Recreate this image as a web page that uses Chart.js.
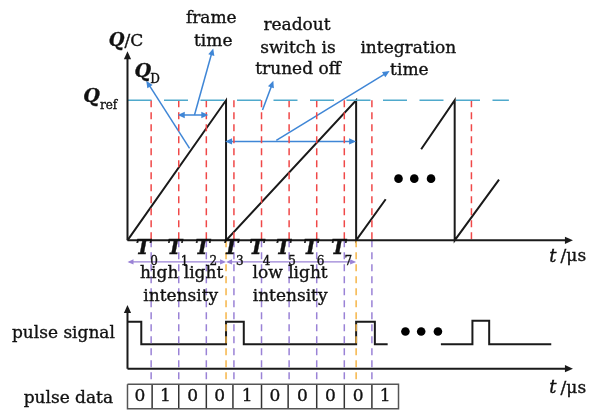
<!DOCTYPE html>
<html>
<head>
<meta charset="utf-8">
<script src="https://cdn.jsdelivr.net/npm/chart.js@4.4.1/dist/chart.umd.min.js"></script>
<style>
html,body{margin:0;padding:0;background:#fff;}
#wrap{width:594px;height:419px;position:relative;}
</style>
</head>
<body>
<div id="wrap"><canvas id="c"></canvas></div>
<script>
// ---- diagram values (in the page's time / charge units) ----
const readoutTimes = [149,177,205,233,261,289,317,345,373,474];      // red dashed readout instants
const sampleTimes  = [149,177,205,233,261,289,317,345,373];          // purple dashed sampling lines
const resetTimes   = [225,357];                                      // orange reset lines
const frameBounds  = [125,150,177,205,232,261,288,317,345,373,400];  // pulse data cells
const pulseBits    = ['0','1','0','0','1','0','0','0','0','1'];
const frameLabels  = ['0','1','2','3','4','5','6','7'];
const frameLabelX  = [141,173,201,230,256,283,311,339];
const frameSubX    = [152,183,212,239,266,292,321,349];
const qRef = 98, qZero = 241;
const ramp1 = [[125,241],[225,98],[225,241],[357,98],[357,241],[387,199]];
const ramp2 = [[423,148],[457,98],[457,241],[502,179]];
const pulse1 = [[125,324],[139,324],[139,347],[225,347],[225,324],[243,324],[243,347],[357,347],[357,324],[376,324],[376,347],[389,347]];
const pulse2 = [[443,347],[475,347],[475,323],[492,323],[492,347],[555,347]];
const dotsTop = [[400,178],[416,178],[433,178]];
const dotsBottom = [[407,334],[423,334],[440,334]];

const BLACK='#1a1a1a', RED='#f04848', PURPLE='#9a82d6', ORANGE='#f5b548', BLUE='#3f86d6', TEAL='#4fa9cc';

function pts(a){return a.map(p=>({x:p[0],y:p[1]}));}
const ds=[];
function line(points,color,width,dash){
  ds.push({data:pts(points),showLine:true,borderColor:color,borderWidth:width,borderDash:dash||[],pointRadius:0,fill:false,tension:0});
}
// axes
line([[125,qZero],[125,52]],BLACK,2);
line([[125,qZero],[572,qZero]],BLACK,2);
line([[125,372],[125,310]],BLACK,2);
line([[125,372],[572,372]],BLACK,2);
// Qref
line([[125,qRef],[512,qRef]],TEAL,1.6,[24,12.5]);
// red readout lines
readoutTimes.forEach(t=>line([[t,qRef],[t,qZero]],RED,1.5,[7,5]));
// purple sampling lines
sampleTimes.forEach(t=>line([[t,qZero],[t,388]],PURPLE,1.5,[7,5]));
// orange reset lines
resetTimes.forEach(t=>line([[t,qZero],[t,383]],ORANGE,1.5,[7,5]));
// sawtooth
line(ramp1,BLACK,2);
line(ramp2,BLACK,2);
// pulse signal
line(pulse1,BLACK,2);
line(pulse2,BLACK,2);
// purple frame arrows
line([[127,263],[223,263]],PURPLE,1.3);
line([[227,263],[355,263]],PURPLE,1.3);
// blue annotations
line([[188,147],[146,81]],BLUE,1.5);
line([[179,113],[204,113]],BLUE,1.5);
line([[193,113],[211,48]],BLUE,1.5);
line([[262,108],[272,81]],BLUE,1.5);
line([[227,140],[354,140]],BLUE,1.5);
line([[276,139],[388,70]],BLUE,1.5);
// pulse data cells
line([[frameBounds[0],388],[frameBounds[frameBounds.length-1],388],[frameBounds[frameBounds.length-1],413],[frameBounds[0],413],[frameBounds[0],388]],'#555',1.5);
frameBounds.slice(1,-1).forEach(b=>line([[b,388],[b,413]],'#333',1.5));
// ellipsis dots
ds.push({data:pts(dotsTop.concat(dotsBottom)),showLine:false,pointRadius:4.3,pointBackgroundColor:'#000',pointBorderWidth:0});

const arrows=[ // [fromX,fromY,tipX,tipY,color,size]
 [125,70,125,48,BLACK,8],[550,qZero,577,qZero,BLACK,8],
 [125,330,125,307,BLACK,8],[550,372,577,372,BLACK,8],
 [188,147,144,78,BLUE,7],[190,113,176,113,BLUE,7],[190,113,207,113,BLUE,7],
 [193,113,212,45,BLUE,7],[262,108,273,78,BLUE,7],
 [290,140,224,140,BLUE,7],[290,140,357,140,BLUE,7],[276,139,391,68,BLUE,7],
 [175,263,125,263,PURPLE,6],[175,263,225,263,PURPLE,6],[290,263,225,263,PURPLE,6],[290,263,357,263,PURPLE,6]
];

const SERIF='"DejaVu Serif", "Liberation Serif", serif';
const texts=[ // [text,x,y,align,font]
 ['frame',210,15,'center','17px '+SERIF],['time',212,38,'center','17px '+SERIF],
 ['readout',297,22,'center','17px '+SERIF],['switch is',298,45,'center','17px '+SERIF],['truned off',298,67,'center','17px '+SERIF],
 ['integration',410,45,'center','17px '+SERIF],['time',411,68,'center','17px '+SERIF],
 ['high light',180,275,'center','17px '+SERIF],['intensity',179,298,'center','17px '+SERIF],
 ['low light',290,275,'center','17px '+SERIF],['intensity',290,298,'center','17px '+SERIF],
 ['pulse signal',60,336,'center','17px '+SERIF],['pulse data',65,403,'center','17px '+SERIF],
 ['Q',106,38,'left','italic bold 18px '+SERIF],['/C',122,38,'left','17px '+SERIF],
 ['Q',80,95,'left','italic bold 19px '+SERIF],['ref',97,104,'left','12px '+SERIF],
 ['Q',132,69,'left','italic bold 19px '+SERIF],['D',148,77,'left','12px '+SERIF],
 ['t',553,258,'left','italic 18px '+SERIF],[' /\u03bcs',559,258,'left','17px '+SERIF],
 ['t',553,392,'left','italic 18px '+SERIF],[' /\u03bcs',559,392,'left','17px '+SERIF]
];
frameLabels.forEach((s,i)=>{
  texts.push(['T',frameLabelX[i],250,'center','italic bold 20px '+SERIF]);
  texts.push([s,frameSubX[i],263,'center','12px '+SERIF]);
});
pulseBits.forEach((b,i)=>{
  texts.push([b,(frameBounds[i]+frameBounds[i+1])/2,401,'center','17px '+SERIF]);
});

const deco={
  id:'deco',
  afterDatasetsDraw(chart){
    const ctx=chart.ctx, xs=chart.scales.x, ys=chart.scales.y;
    const X=v=>xs.getPixelForValue(v), Y=v=>ys.getPixelForValue(v);
    ctx.save();
    arrows.forEach(a=>{
      const x0=X(a[0]),y0=Y(a[1]),x1=X(a[2]),y1=Y(a[3]),s=a[5];
      const ang=Math.atan2(y1-y0,x1-x0);
      ctx.fillStyle=a[4];
      ctx.beginPath();
      ctx.moveTo(x1,y1);
      ctx.lineTo(x1-s*Math.cos(ang)+s*0.45*Math.sin(ang),y1-s*Math.sin(ang)-s*0.45*Math.cos(ang));
      ctx.lineTo(x1-s*Math.cos(ang)-s*0.45*Math.sin(ang),y1-s*Math.sin(ang)+s*0.45*Math.cos(ang));
      ctx.closePath();ctx.fill();
    });
    ctx.fillStyle='#111';
    ctx.strokeStyle='#111';
    ctx.lineWidth=0.35;
    ctx.textBaseline='middle';
    texts.forEach(t=>{
      ctx.font=t[4];ctx.textAlign=t[3];
      ctx.fillText(t[0],X(t[1]),Y(t[2]));
      ctx.strokeText(t[0],X(t[1]),Y(t[2]));
    });
    ctx.restore();
  }
};

new Chart(document.getElementById('c'),{
  type:'scatter',
  data:{datasets:ds},
  options:{
    responsive:true,maintainAspectRatio:false,animation:false,
    layout:{padding:0},
    plugins:{legend:{display:false},tooltip:{enabled:false}},
    scales:{
      x:{type:'linear',min:0,max:594,display:false},
      y:{type:'linear',min:0,max:419,reverse:true,display:false}
    }
  },
  plugins:[deco]
});
</script>
</body>
</html>
